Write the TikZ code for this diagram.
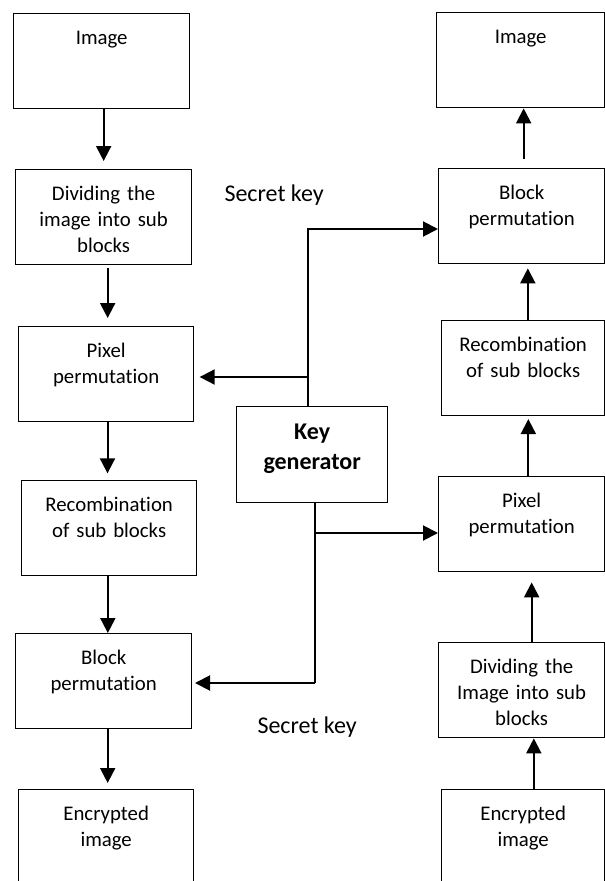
\documentclass[tikz,border=0pt]{standalone}
\usepackage{fontspec}
\setmainfont{Carlito}[Ligatures=NoCommon, Contextuals=NoAlternate]
\usetikzlibrary{arrows.meta}

\tikzset{every picture/.style={line width=0.75pt}}
\tikzset{
  box/.style={draw, line width=1pt, rectangle, inner sep=0pt, anchor=north west, align=center,
    font=\fontsize{15.6}{19.5}\selectfont, text width=#1, text height=23.3pt, text depth=48pt},
  keybox/.style={box=#1, font=\fontsize{18}{22.5}\selectfont\bfseries, text height=24.75pt, text depth=47.25pt},
  keytext/.style={inner sep=0pt, anchor=base west, font=\fontsize{18}{22.5}\selectfont},
  flow/.style={line width=1.5pt, -{Triangle[length=11.25pt,width=11.25pt]}},
  stem/.style={line width=1pt},
}

\begin{document}
\begin{tikzpicture}[x=0.75pt,y=0.75pt,yscale=-1,xscale=1]
\clip (0,0) rectangle (605,881);

% Left column (encryption)
\node (imgL) at (13,13) [box=132pt] {Image};
\node (divL) at (15,169) [box=132pt] {Dividing the\\image into sub\\blocks};
\node (pixL) at (18,326) [box=131.25pt] {Pixel\\permutation};
\node (recL) at (21,480) [box=131.25pt] {Recombination\\of sub blocks};
\node (blkL) at (15,633) [box=132pt] {Block\\permutation};
\node (encL) at (18,789) [box=131.25pt] {Encrypted\\image};

% Right column (decryption)
\node (imgR) at (436,12) [box=126pt] {Image};
\node (blkR) at (438,168) [box=124.5pt] {Block\\permutation};
\node (recR) at (441,320) [box=122.25pt] {Recombination\\of sub blocks};
\node (pixR) at (438,476) [box=124.5pt] {Pixel\\permutation};
\node (divR) at (438,642) [box=124.5pt] {Dividing the\\Image into sub\\blocks};
\node (encR) at (441,789) [box=122.25pt] {Encrypted\\image};

% Key generator
\node (keyGen) at (236,406) [keybox=113.25pt] {Key\\generator};
\node (keyUp) at (224,201) [keytext] {Secret key};
\node (keyDn) at (257,733) [keytext] {Secret key};

% Left arrows
\draw [flow, shorten >=6pt] ([xshift=1.5pt]imgL.south) -- ([xshift=1.5pt]imgL.south |- divL.north);
\draw [flow, shorten <=2pt, shorten >=6pt] ([xshift=3pt]divL.south) -- ([xshift=3pt]divL.south |- pixL.north);
\draw [flow, shorten >=5pt] ([xshift=1pt]pixL.south) -- ([xshift=1pt]pixL.south |- recL.north);
\draw [flow] ([xshift=-1pt]recL.south) -- ([xshift=-1pt]recL.south |- blkL.north);
\draw [flow, shorten >=4.5pt] ([xshift=3pt]blkL.south) -- ([xshift=3pt]blkL.south |- encL.north);

% Right arrows
\draw [flow] ([xshift=8pt]encR.north) -- ([xshift=8pt]encR.north |- divR.south);
\draw [flow, shorten >=7.5pt] ([xshift=7.5pt]divR.north) -- ([xshift=7.5pt]divR.north |- pixR.south);
\draw [flow, shorten >=2pt] ([xshift=5pt]pixR.north) -- ([xshift=5pt]pixR.north |- recR.south);
\draw [flow, shorten >=3pt] ([xshift=3.5pt]recR.north) -- ([xshift=3.5pt]recR.north |- blkR.south);
\draw [flow, shorten <=6.75pt] ([xshift=1.5pt]blkR.north) -- ([xshift=1.5pt]blkR.north |- imgR.south);

% Secret key lines
\coordinate (jUp) at (308,377);
\coordinate (jTop) at (308,229);
\coordinate (jMid) at (315,533);
\coordinate (jDn) at (315,683);
\draw [stem] (jUp |- keyGen.north) -- (jUp);
\draw [flow, shorten >=4pt] (jUp) -- (jUp -| pixL.east);
\draw [flow] (jUp) -- (jTop) -- (jTop -| blkR.west);
\draw [stem] (jDn |- keyGen.south) -- (jDn);
\draw [flow, shorten >=2pt] (jDn) -- (jDn -| blkL.east);
\draw [flow] (jMid) -- (jMid -| pixR.west);

\end{tikzpicture}
\end{document}
